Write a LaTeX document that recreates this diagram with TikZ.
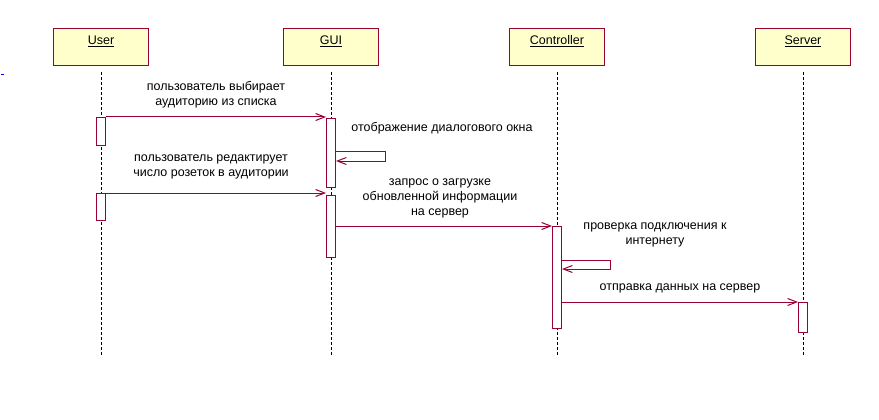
\documentclass[tikz,border=0pt]{standalone}
\usepackage{fontspec}
\setmainfont{Liberation Sans}
\usetikzlibrary{arrows.meta}
\definecolor{umlred}{RGB}{153,0,51}
\definecolor{umlfill}{RGB}{255,255,204}

\begin{document}
\begin{tikzpicture}[x=1pt,y=-1pt,
	lifebox/.style={draw=umlred,fill=umlfill,line width=1.2pt,anchor=north,
		minimum width=95pt,inner ysep=4pt,text height=12pt,text depth=17pt,
		font=\fontsize{12.5}{15}\selectfont},
	lifeline/.style={dash pattern=on 3pt off 2pt,line width=0.9pt},
	act/.style={draw=umlred,fill=white,line width=1pt,anchor=north,
		minimum width=9pt,inner sep=0pt},
	msg/.style={draw=umlred,line width=1pt,-{Straight Barb[length=9pt,width=7pt]}},
	txt/.style={align=center,font=\fontsize{12.5}{15}\selectfont}]
	\useasboundingbox (0,0) rectangle (879,420);

	\node[lifebox] (user) at (101,28)     {\underline{User}};
	\node[lifebox] (gui) at (331,28)     {\underline{GUI}};
	\node[lifebox] (ctrl) at (557,28)     {\underline{Controller}};
	\node[lifebox] (serv) at (803,28)     {\underline{Server}};

	\coordinate (uend) at (101,357);
	\coordinate (gend) at (331,357);
	\coordinate (cend) at (557,357);
	\coordinate (send) at (803,357);

	\draw[lifeline] ([yshift=-6pt]user.south) -- (uend);
	\draw[lifeline] ([yshift=-6pt]gui.south) -- (gend);
	\draw[lifeline] ([yshift=-6pt]ctrl.south) -- (cend);
	\draw[lifeline] ([yshift=-6pt]serv.south) -- (send);

	\draw[blue,line width=1pt] (1,75) -- (4,75);

	\node[act,minimum height=28pt] (u1) at (101,117) {};
	\node[act,minimum height=27pt] (u2) at (101,193) {};
	\node[act,minimum height=69pt] (g1) at (331,118) {};
	\node[act,minimum height=62pt] (g2) at (331,195) {};
	\node[act,minimum height=102pt] (c1) at (557,226) {};
	\node[act,minimum height=30pt] (s1) at (803,302) {};

	\coordinate (gs1) at (385,151);
	\coordinate (gs2) at (385,161);
	\coordinate (cs1) at (610,260);
	\coordinate (cs2) at (610,269);

	\path[msg] (u1.north east) -- (u1.north east -| g1.west);
	\path[msg] (gs1 -| g1.east) -- (gs1) -- (gs2) -- (gs2 -| g1.east);
	\path[msg] (u2.north east) -- (u2.north east -| g2.west);
	\path[msg] (c1.north west -| g2.east) -- (c1.north west);
	\path[msg] (cs1 -| c1.east) -- (cs1) -- (cs2) -- (cs2 -| c1.east);
	\path[msg] (c1.east |- s1.north) -- (s1.north west);

	\node[txt] (m1) at (216,95)     {пользователь выбирает\\аудиторию из списка};
	\node[txt] (m2) at (442,128)     {отображение диалогового окна};
	\node[txt] (m3) at (211,167)     {пользователь редактирует\\число розеток в аудитории};
	\node[txt] (m4) at (440,198)     {запрос о загрузке\\обновленной информации\\на сервер};
	\node[txt] (m5) at (655,235)     {проверка подключения к\\интернету};
	\node[txt] (m6) at (680,288)     {отправка данных на сервер};

\end{tikzpicture}
\end{document}
